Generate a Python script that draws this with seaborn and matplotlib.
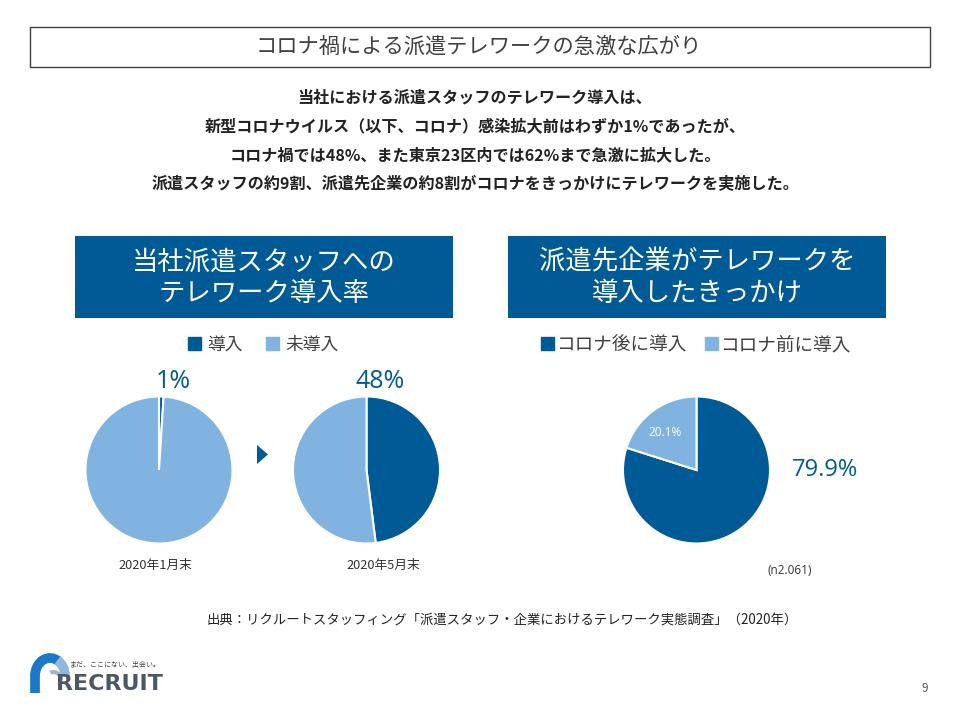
import matplotlib
matplotlib.use("Agg")
import matplotlib.pyplot as plt
import seaborn as sns
from matplotlib.patches import Rectangle, Polygon, Patch, Arc

# ---------------- data ----------------
title = "コロナ禍による派遣テレワークの急激な広がり"
summary_lines = [
    "当社における派遣スタッフのテレワーク導入は、",
    "新型コロナウイルス（以下、コロナ）感染拡大前はわずか1%であったが、",
    "コロナ禍では48%、また東京23区内では62%まで急激に拡大した。",
    "派遣スタッフの約9割、派遣先企業の約8割がコロナをきっかけにテレワークを実施した。",
]
left_header = "当社派遣スタッフへの\nテレワーク導入率"
right_header = "派遣先企業がテレワークを\n導入したきっかけ"
intro_categories = ["導入", "未導入"]
intro_periods = ["2020年1月末", "2020年5月末"]
intro_rates = [1, 48]            # % introduced
trigger_categories = ["コロナ後に導入", "コロナ前に導入"]
trigger_values = [79.9, 20.1]
sample_note = "(n2.061)"
source_note = "出典：リクルートスタッフィング「派遣スタッフ・企業におけるテレワーク実態調査」（2020年）"
page_no = "9"

# ---------------- style ----------------
sns.set_theme(style="white")
plt.rcParams["font.family"] = ["Noto Sans CJK JP", "DejaVu Sans"]
dark, light = sns.color_palette(["#005A96", "#80B3E0"])
text_col = "#222222"
gray = "#404040"

W, H = 960, 720
fig = plt.figure(figsize=(9.6, 7.2), dpi=100)
bg = fig.add_axes([0, 0, 1, 1])
bg.set_xlim(0, W)
bg.set_ylim(H, 0)
bg.axis("off")

# title box
bg.add_patch(Rectangle((30, 27), 900, 40, fill=False, edgecolor=gray, lw=1))
bg.text(479, 47, title, ha="center", va="center", fontsize=15.3, color=gray)

# summary text
for i, line in enumerate(summary_lines):
    bg.text(475, 97 + 29 * i, line, ha="center", va="center",
            fontsize=11.6, fontweight="bold", color=text_col)

# header boxes
for x0, txt in [(75, left_header), (508, right_header)]:
    bg.add_patch(Rectangle((x0, 236), 378, 82, facecolor=dark, edgecolor="none"))
    bg.text(x0 + 189, 278, txt, ha="center", va="center", fontsize=19,
            color="white", linespacing=1.2)

# legends
fig.legend(handles=[Patch(color=dark, label=intro_categories[0]),
                    Patch(color=light, label=intro_categories[1])],
           loc="center", bbox_to_anchor=(263 / W, 1 - 345 / H), ncol=2,
           frameon=False, fontsize=12.8, handlelength=0.75, handleheight=0.75,
           handletextpad=0.35, columnspacing=1.3, labelcolor=gray)
fig.legend(handles=[Patch(color=dark, label=trigger_categories[0]),
                    Patch(color=light, label=trigger_categories[1])],
           loc="center", bbox_to_anchor=(696 / W, 1 - 345 / H), ncol=2,
           frameon=False, fontsize=13.4, handlelength=0.7, handleheight=0.75,
           handletextpad=0.1, columnspacing=1.0, labelcolor=gray)

R = 73.5
def pie_ax(cx, cy):
    a = fig.add_axes([(cx - R) / W, 1 - (cy + R) / H, 2 * R / W, 2 * R / H])
    return a

wp = dict(edgecolor="white", linewidth=1.5)

# intro pies
for cx, rate, period in zip([159, 366.5], intro_rates, intro_periods):
    ax = pie_ax(cx, 470)
    ax.pie([rate, 100 - rate], colors=[dark, light], startangle=90,
           counterclock=False, wedgeprops=wp)
    ax.set_xlim(-1, 1)
    ax.set_ylim(-1, 1)
    ax.set_aspect("equal")
    bg.text(cx + 14, 382, f"{rate}%", ha="center", va="center", fontsize=18,
            color=dark, family=["Open Sans", "DejaVu Sans"])
    bg.text(cx - 4 if cx < 200 else cx + 17, 565, period, ha="center",
            va="center", fontsize=9.2, color="#333333")

# arrow triangle
bg.add_patch(Polygon([(257, 445), (257, 464), (268, 454.5)], closed=True,
                     facecolor=dark, edgecolor="none"))

# trigger pie
ax = pie_ax(696.5, 470)
ax.pie(trigger_values, colors=[dark, light], startangle=90,
       counterclock=False, wedgeprops=wp)
ax.set_xlim(-1, 1)
ax.set_ylim(-1, 1)
ax.set_aspect("equal")
ax.text(665, 433, f"{trigger_values[1]}%", ha="center", va="center",
        fontsize=8.5, color="white", family=["Open Sans", "DejaVu Sans"],
        transform=bg.transData, zorder=10)
bg.text(825, 470, f"{trigger_values[0]}%", ha="center", va="center",
        fontsize=17, color=dark, family=["Open Sans", "DejaVu Sans"])
bg.text(790, 570, sample_note, ha="center", va="center", fontsize=8.5,
        color="#333333", family=["Open Sans", "DejaVu Sans"])

# source
bg.text(502, 621, source_note, ha="center", va="center", fontsize=9.6,
        color=text_col)

# logo (approximation)
bg.add_patch(Arc((50, 676), 30, 36, theta1=180, theta2=300, lw=7,
                 color="#1E78C8", capstyle="butt"))
bg.add_patch(Arc((50, 676), 30, 36, theta1=295, theta2=360, lw=7,
                 color="#8FB8DA", capstyle="butt"))
bg.plot([35, 35], [675, 693], color="#1E78C8", lw=7, solid_capstyle="butt")
bg.add_patch(Arc((53, 680), 16, 16, theta1=250, theta2=360, lw=3,
                 color="#A8B4C0"))
bg.text(70, 665, "まだ、ここにない、出会い。", ha="left", va="center",
        fontsize=5, color="#444444")
bg.text(56, 684, "RECRUIT", ha="left", va="center", fontsize=16,
        fontweight="bold", color="#4A5866", family=["DejaVu Sans"])

bg.text(925, 688, page_no, ha="center", va="center", fontsize=8.5,
        color="#555555")

fig.savefig("out.png", dpi=100, facecolor="white")
